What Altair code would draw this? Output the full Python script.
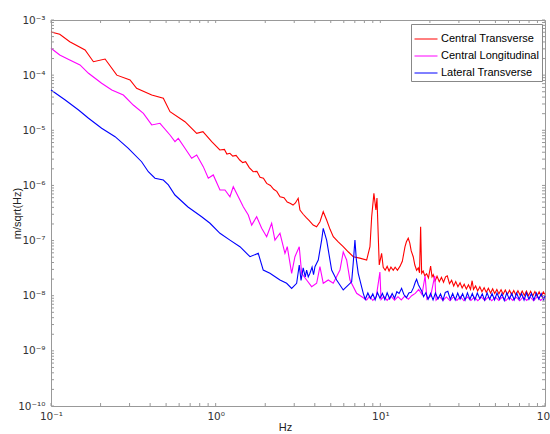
import altair as alt
import pandas as pd

series_names = ["Central Transverse", "Central Longitudinal", "Lateral Transverse"]
series_colors = ["#ff0000", "#ff00ff", "#0000ff"]

# (frequency Hz, amplitude m/sqrt(Hz))
central_transverse = [
    (0.1, 6.05e-4), (0.113, 5.5e-4), (0.130, 4.04e-4), (0.161, 2.86e-4), (0.181, 1.75e-4),
    (0.213, 1.96e-4), (0.251, 1.0e-4), (0.302, 8.17e-5), (0.331, 5.77e-5), (0.409, 4.36e-5),
    (0.481, 3.8e-5), (0.528, 2.17e-5), (0.651, 1.43e-5), (0.767, 8.81e-6), (0.837, 9.42e-6),
    (0.946, 6.21e-6), (1.06, 4.39e-6), (1.13, 4.5e-6), (1.17, 3.7e-6), (1.22, 3.82e-6),
    (1.27, 3.4e-6), (1.33, 3.5e-6), (1.40, 2.89e-6), (1.46, 2.6e-6), (1.52, 2.7e-6),
    (1.60, 2.1e-6), (1.69, 1.77e-6), (1.78, 1.8e-6), (1.86, 1.4e-6), (1.95, 1.35e-6),
    (2.04, 1.09e-6), (2.15, 1.0e-6), (2.25, 8.5e-7), (2.35, 7.8e-7), (2.46, 6.24e-7),
    (2.60, 6.0e-7), (2.72, 5.0e-7), (2.83, 4.74e-7), (2.95, 4.4e-7), (3.05, 4.8e-7),
    (3.17, 5.84e-7), (3.25, 3.58e-7), (3.40, 3.0e-7), (3.55, 2.6e-7), (3.70, 2.3e-7),
    (3.91, 1.91e-7), (4.10, 1.78e-7), (4.30, 2.2e-7), (4.50, 3.34e-7), (4.72, 2.36e-7),
    (4.95, 1.6e-7), (5.18, 1.175e-7), (5.55, 9.5e-8), (5.95, 7.74e-8), (6.40, 6.2e-8),
    (6.85, 5.1e-8), (7.50, 4.8e-8), (8.26, 4.44e-8), (8.65, 7.74e-8), (8.86, 2.71e-7),
    (9.14, 7.19e-7), (9.40, 3.58e-7), (9.54, 5.92e-7), (9.85, 3.61e-8), (10.18, 5.87e-8),
    (10.41, 3.27e-8), (10.7, 2.9e-8), (11.0, 3.4e-8), (11.3, 2.8e-8), (11.6, 3.3e-8),
    (11.98, 2.9e-8), (12.3, 3.3e-8), (12.7, 2.9e-8), (13.15, 3.4e-8), (13.6, 4.2e-8),
    (14.11, 7.7e-8), (14.4, 9.5e-8), (14.77, 1.1e-7), (15.1, 9.0e-8), (15.4, 6.5e-8),
    (15.84, 5.1e-8), (16.2, 3.6e-8), (16.61, 2.9e-8), (17.0, 3.2e-8), (17.3, 2.6e-8),
    (17.57, 1.78e-7), (17.82, 2.55e-8), (18.2, 2.8e-8), (18.6, 2.3e-8), (19.1, 2.5e-8),
    (19.6, 2.1e-8), (20.2, 3.46e-8), (20.6, 2.2e-8), (20.95, 2.4e-8), (21.5, 1.85e-8),
    (22.1, 2.25e-8), (22.8, 1.8e-8), (23.5, 2.15e-8), (24.2, 1.75e-8), (24.9, 2.2e-8),
    (25.5, 2.3e-8), (26.3, 1.65e-8), (27.1, 1.9e-8), (27.9, 1.5e-8), (28.7, 1.8e-8),
    (29.6, 1.45e-8), (30.5, 1.72e-8), (31.4, 1.38e-8), (32.3, 1.62e-8), (33.3, 1.32e-8),
    (34.3, 1.58e-8), (35.3, 1.3e-8), (36.1, 1.87e-8), (36.8, 1.3e-8), (37.9, 1.5e-8),
    (39.0, 1.22e-8), (40.2, 1.45e-8), (41.4, 1.18e-8), (42.7, 1.4e-8), (44.0, 1.15e-8),
    (45.3, 1.36e-8), (46.7, 1.12e-8), (48.1, 1.33e-8), (49.5, 1.1e-8), (51.0, 1.3e-8),
    (52.5, 1.08e-8), (54.1, 1.28e-8), (55.7, 1.06e-8), (57.4, 1.27e-8), (59.1, 1.05e-8),
    (60.9, 1.26e-8), (62.7, 1.04e-8), (64.6, 1.24e-8), (66.5, 1.03e-8), (68.5, 1.23e-8),
    (70.6, 1.02e-8), (72.7, 1.22e-8), (74.9, 1.01e-8), (77.1, 1.21e-8), (79.4, 1.0e-8),
    (81.8, 1.2e-8), (84.3, 9.9e-9), (86.8, 1.19e-8), (89.4, 9.8e-9), (92.1, 1.18e-8),
    (94.9, 9.8e-9), (97.7, 1.17e-8), (100, 1.05e-8),
]

central_longitudinal = [
    (0.1, 3.07e-4), (0.113, 2.32e-4), (0.130, 1.88e-4), (0.150, 1.53e-4), (0.169, 1.08e-4),
    (0.203, 7.11e-5), (0.234, 5.38e-5), (0.275, 4.36e-5), (0.316, 2.87e-5), (0.364, 2.03e-5),
    (0.409, 1.25e-5), (0.459, 1.34e-5), (0.528, 8.21e-6), (0.566, 6.21e-6), (0.593, 7.15e-6),
    (0.651, 4.71e-6), (0.715, 3.10e-6), (0.767, 3.56e-6), (0.841, 2.19e-6), (0.902, 1.35e-6),
    (0.967, 1.55e-6), (1.062, 8.26e-7), (1.139, 8.26e-7), (1.221, 6.24e-7), (1.279, 9.48e-7),
    (1.404, 5.44e-7), (1.471, 4.11e-7), (1.578, 2.91e-7), (1.655, 1.91e-7), (1.774, 2.71e-7),
    (1.903, 1.67e-7), (2.040, 1.175e-7), (2.188, 2.06e-7), (2.291, 1.02e-7), (2.458, 1.355e-7),
    (2.635, 5.87e-8), (2.721, 7.74e-8), (2.894, 2.55e-8), (3.030, 5.10e-8), (3.218, 7.74e-8),
    (3.328, 2.55e-8), (3.568, 1.93e-8), (3.827, 1.46e-8), (4.104, 1.68e-8), (4.298, 3.36e-8),
    (4.501, 1.68e-8), (4.828, 1.93e-8), (5.176, 1.68e-8), (5.685, 2.92e-8), (5.953, 6.2e-8),
    (6.242, 4.44e-8), (6.538, 1.93e-8), (7.179, 1.105e-8), (8.257, 8.36e-9), (8.6, 9.8e-9),
    (9.0, 8.2e-9), (9.45, 9.6e-9), (9.94, 2.69e-8), (10.1, 8.5e-9), (10.5, 9.7e-9),
    (11.0, 8.2e-9), (11.6, 9.8e-9), (12.2, 8.3e-9), (12.8, 9.6e-9), (13.4, 8.4e-9),
    (14.1, 9.9e-9), (14.8, 8.6e-9), (15.5, 1.0e-8), (16.3, 1.1e-8), (17.1, 1.3e-8),
    (17.9, 1.05e-8), (18.7, 2.28e-8), (19.2, 8.6e-9), (20.2, 9.8e-9), (21.4, 2.28e-8),
    (21.8, 8.3e-9), (22.9, 9.6e-9), (24.0, 8.2e-9), (25.2, 9.5e-9), (26.5, 8.1e-9),
    (27.8, 9.5e-9), (29.2, 8.2e-9), (30.6, 9.6e-9), (32.2, 8.1e-9), (33.8, 9.5e-9),
    (35.5, 8.2e-9), (37.2, 9.4e-9), (39.1, 8.1e-9), (41.0, 9.5e-9), (43.1, 8.2e-9),
    (45.2, 9.4e-9), (47.5, 8.1e-9), (49.9, 9.5e-9), (52.4, 8.2e-9), (55.0, 9.4e-9),
    (57.8, 8.1e-9), (60.6, 9.5e-9), (63.7, 8.2e-9), (66.9, 9.4e-9), (70.2, 8.1e-9),
    (73.7, 9.5e-9), (77.4, 8.2e-9), (81.3, 9.4e-9), (85.3, 8.1e-9), (89.6, 9.5e-9),
    (94.1, 8.2e-9), (98.8, 9.4e-9), (100, 8.8e-9),
]

lateral_transverse = [
    (0.1, 5.38e-5), (0.122, 3.54e-5), (0.147, 2.33e-5), (0.169, 1.65e-5), (0.203, 1.09e-5),
    (0.245, 7.65e-6), (0.295, 4.71e-6), (0.355, 2.69e-6), (0.390, 1.77e-6), (0.428, 1.35e-6),
    (0.481, 1.25e-6), (0.516, 1.02e-6), (0.566, 6.70e-7), (0.679, 4.06e-7), (0.822, 2.71e-7),
    (0.924, 2.06e-7), (1.062, 1.355e-7), (1.221, 1.02e-7), (1.404, 7.74e-8), (1.616, 5.10e-8),
    (1.814, 5.87e-8), (1.945, 2.92e-8), (2.136, 2.55e-8), (2.458, 1.93e-8), (2.698, 1.68e-8),
    (2.894, 1.36e-8), (3.103, 1.68e-8), (3.218, 3.61e-8), (3.30, 1.9e-8), (3.40, 3.2e-8),
    (3.50, 2.2e-8), (3.568, 2.92e-8), (3.65, 2.2e-8), (3.737, 2.55e-8), (3.85, 3.3e-8),
    (3.93, 2.4e-8), (4.009, 3.36e-8), (4.198, 4.44e-8), (4.401, 1.02e-7), (4.501, 1.67e-7),
    (4.72, 1.02e-7), (5.062, 2.92e-8), (5.428, 1.93e-8), (5.953, 1.27e-8), (6.695, 1.79e-8),
    (6.85, 4.0e-8), (7.011, 1.02e-7), (7.15, 4.5e-8), (7.342, 2.55e-8), (7.876, 1.105e-8),
    (8.1, 8.6e-9), (8.4, 1.12e-8), (8.7, 8.9e-9), (9.0, 1.08e-8), (9.3, 8.4e-9),
    (9.6, 1.14e-8), (9.95, 9.0e-9), (10.3, 1.1e-8), (10.65, 8.5e-9), (11.0, 1.13e-8),
    (11.4, 8.8e-9), (11.8, 1.1e-8), (12.2, 9.0e-9), (12.6, 1.18e-8), (13.0, 1.1e-8),
    (13.46, 1.36e-8), (13.9, 1.05e-8), (14.4, 9.2e-9), (14.9, 1.12e-8), (15.4, 1.15e-8),
    (15.9, 1.4e-8), (16.3, 1.75e-8), (16.61, 1.98e-8), (17.0, 1.6e-8), (17.4, 1.4e-8),
    (17.82, 1.22e-8), (18.3, 9.6e-9), (18.9, 1.13e-8), (19.5, 8.6e-9), (20.2, 1.1e-8),
    (20.9, 8.4e-9), (21.6, 1.12e-8), (22.4, 8.7e-9), (23.2, 1.08e-8), (24.0, 8.3e-9),
    (24.8, 1.15e-8), (25.7, 1.2e-8), (26.6, 8.6e-9), (27.5, 1.1e-8), (28.5, 8.4e-9),
    (29.5, 1.12e-8), (30.5, 8.7e-9), (31.6, 1.09e-8), (32.7, 8.3e-9), (33.8, 1.13e-8),
    (35.0, 8.6e-9), (36.2, 1.1e-8), (37.5, 8.4e-9), (38.8, 1.12e-8), (40.2, 8.8e-9),
    (41.6, 1.08e-8), (43.0, 8.3e-9), (44.5, 1.13e-8), (46.1, 8.6e-9), (47.7, 1.1e-8),
    (49.4, 8.4e-9), (51.1, 1.12e-8), (52.9, 8.7e-9), (54.7, 1.09e-8), (56.6, 8.2e-9),
    (58.6, 1.13e-8), (60.7, 8.6e-9), (62.8, 1.1e-8), (65.0, 8.4e-9), (67.3, 1.12e-8),
    (69.6, 8.6e-9), (72.1, 1.09e-8), (74.6, 8.3e-9), (77.2, 1.13e-8), (79.9, 8.6e-9),
    (82.7, 1.1e-8), (85.6, 8.4e-9), (88.6, 1.12e-8), (91.7, 8.7e-9), (94.9, 1.09e-8),
    (98.2, 8.4e-9), (100, 1.0e-8),
]

x_label_values = [0.1, 1, 10, 100]
y_label_values = [1e-10, 1e-9, 1e-8, 1e-7, 1e-6, 1e-5, 1e-4, 1e-3]
x_tick_values = [m * 10.0 ** e for e in (-1, 0, 1) for m in range(1, 10)] + [100.0]
y_tick_values = [m * 10.0 ** e for e in range(-10, -3) for m in range(1, 10)] + [1e-3]

rows = []
for name, pts in zip(series_names, [central_transverse, central_longitudinal, lateral_transverse]):
    for i, (f, v) in enumerate(pts):
        rows.append({"series": name, "f": f, "v": v, "i": i})
df = pd.DataFrame(rows)

W, H = 494, 386
GRAY = "#999999"

xscale = alt.Scale(type="log", domain=[0.1, 100], nice=False)
yscale = alt.Scale(type="log", domain=[1e-10, 1e-3], nice=False)

sup_expr = ("'10' + (round(log(datum.value)/LN10) < 0 ? '\u207b' : '') + "
            "['\u2070','\u00b9','\u00b2','\u00b3','\u2074','\u2075','\u2076','\u2077','\u2078','\u2079','\u00b9\u2070']"
            "[abs(round(log(datum.value)/LN10))]")

common_axis = dict(
    labelExpr=sup_expr, labelFont="DejaVu Sans", labelFontSize=10.5, labelFontWeight="normal",
    labelColor="#333333", ticks=False, domain=False, grid=False,
    titleFont="Liberation Sans", titleFontSize=11, titleFontWeight="normal", titleColor="#222222",
    labelOverlap=False, labelFlush=False,
)

x_axis = alt.Axis(values=x_label_values, title="Hz", labelPadding=5,
                  titleX=234, titleY=15, titleAlign="center", titleBaseline="top", **common_axis)
y_axis = alt.Axis(values=y_label_values, title="m/sqrt(Hz)", labelPadding=6,
                  titleX=-40, titleY=193, titleAngle=-90, titleAlign="center", titleBaseline="top",
                  **common_axis)

lines = alt.Chart(df).mark_line(strokeWidth=1.1).encode(
    x=alt.X("f:Q", scale=xscale, axis=x_axis),
    y=alt.Y("v:Q", scale=yscale, axis=y_axis),
    color=alt.Color("series:N", scale=alt.Scale(domain=series_names, range=series_colors),
                    legend=alt.Legend(title=None, orient="none", legendX=360, legendY=4,
                                      direction="vertical", fillColor="white", strokeColor="#888888",
                                      padding=3, symbolType="stroke", symbolSize=529,
                                      symbolStrokeWidth=1, labelOffset=3, rowPadding=-9.5,
                                      labelFont="Liberation Sans", labelFontSize=11,
                                      labelColor="black", labelLimit=300)),
    order="i:Q",
)

xt = pd.DataFrame({"f": x_tick_values})
yt = pd.DataFrame({"v": y_tick_values})

bottom_ticks = alt.Chart(xt).mark_rule(color=GRAY).encode(
    x=alt.X("f:Q", scale=xscale, axis=x_axis), y=alt.value(H), y2=alt.value(H - 3))
top_ticks = alt.Chart(xt).mark_rule(color=GRAY).encode(
    x=alt.X("f:Q", scale=xscale, axis=x_axis), y=alt.value(0), y2=alt.value(3))
left_ticks = alt.Chart(yt).mark_rule(color=GRAY).encode(
    y=alt.Y("v:Q", scale=yscale, axis=y_axis), x=alt.value(0), x2=alt.value(3))
right_ticks = alt.Chart(yt).mark_rule(color=GRAY).encode(
    y=alt.Y("v:Q", scale=yscale, axis=y_axis), x=alt.value(W), x2=alt.value(W - 3))

chart = alt.layer(lines, bottom_ticks, top_ticks, left_ticks, right_ticks).properties(
    width=W, height=H,
    autosize=alt.AutoSizeParams(type="none"),
    padding={"left": 51, "top": 20, "right": 5, "bottom": 28},
    background="white",
).configure_view(stroke=GRAY, strokeWidth=1)

chart.save("out.html", embed_options={"renderer": "svg", "actions": False})
